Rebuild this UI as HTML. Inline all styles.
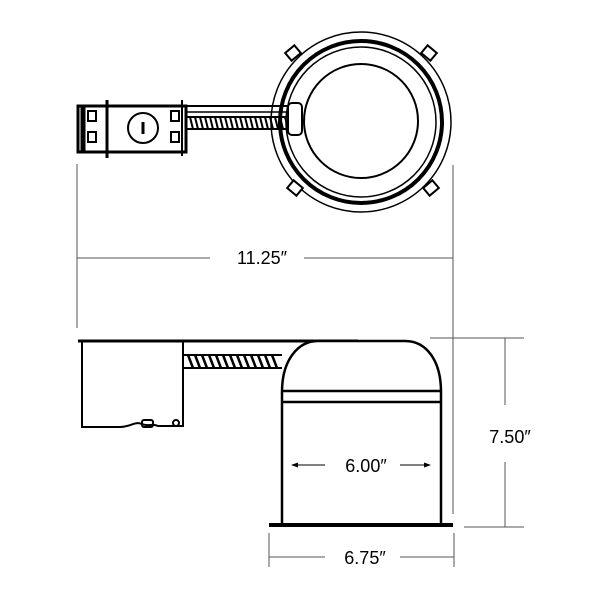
<!DOCTYPE html>
<html><head><style>body{margin:0;background:#fff}svg{display:block}</style></head><body>
<svg width="604" height="604" viewBox="0 0 604 604" xmlns="http://www.w3.org/2000/svg" font-family="Liberation Sans, sans-serif">
<g fill="none" stroke="#000">
<!-- top view -->
<circle cx="361" cy="122" r="90" stroke-width="1.5"/>
<circle cx="361" cy="122" r="81" stroke-width="4"/>
<circle cx="361" cy="122" r="75" stroke-width="1.5"/>
<circle cx="361" cy="121" r="57" stroke-width="2"/>
<g stroke-width="2" fill="#fff">
<rect x="287" y="48" width="12" height="10" transform="rotate(-40 293 53)"/>
<rect x="423" y="48" width="12" height="10" transform="rotate(40 429 53)"/>
<rect x="289" y="183" width="12" height="10" transform="rotate(40 295 188)"/>
<rect x="425" y="183" width="12" height="10" transform="rotate(-40 431 188)"/>
</g>
<line x1="187" y1="106" x2="290" y2="106" stroke-width="2"/>
<line x1="187" y1="112" x2="290" y2="112" stroke-width="1.5"/>
<rect x="186" y="117" width="112" height="12" stroke-width="2"/>
<path d="M190 117 l3 12 M195 117 l3 12 M200 117 l3 12 M205 117 l3 12 M210 117 l3 12 M215 117 l3 12 M220 117 l3 12 M225 117 l3 12 M230 117 l3 12 M235 117 l3 12 M240 117 l3 12 M245 117 l3 12 M250 117 l3 12 M255 117 l3 12 M260 117 l3 12 M265 117 l3 12 M270 117 l3 12 M275 117 l3 12 M280 117 l3 12 M285 117 l3 12 M290 117 l3 12" stroke-width="2"/>
<rect x="288" y="103" width="14" height="32" rx="4" stroke-width="2" fill="#fff"/>
<rect x="78" y="106" width="108" height="46" stroke-width="3" fill="#fff"/>
<rect x="81" y="108" width="4" height="42" fill="#000"/>
<line x1="107" y1="100" x2="107" y2="158" stroke-width="3"/>
<line x1="182" y1="100" x2="182" y2="156" stroke-width="2"/>
<circle cx="143" cy="128" r="15" stroke-width="2"/>
<line x1="143" y1="122" x2="143" y2="134" stroke-width="3"/>
<rect x="88" y="111" width="8" height="10" stroke-width="2"/><rect x="88" y="132" width="8" height="10" stroke-width="2"/>
<rect x="171" y="111" width="8" height="10" stroke-width="2"/><rect x="171" y="132" width="8" height="10" stroke-width="2"/>
<!-- side view -->
<line x1="78" y1="341" x2="358" y2="341" stroke-width="3"/>
<path d="M82 341 V427 H120 C130 427 135 421 142 424 C148 427 152 423 158 426 H183 V341" stroke-width="2"/>
<rect x="142" y="420" width="11" height="7" rx="2" stroke-width="2"/>
<circle cx="176" cy="423" r="3" stroke-width="2"/>
<path d="M184 355 H282 M184 368 H282" stroke-width="2"/>
<path d="M188 355 l5 13 M195 355 l5 13 M202 355 l5 13 M209 355 l5 13 M216 355 l5 13 M223 355 l5 13 M230 355 l5 13 M237 355 l5 13 M244 355 l5 13 M251 355 l5 13 M258 355 l5 13 M265 355 l5 13 M272 355 l5 13" stroke-width="2.5"/>
<path d="M282 525 V392 C282 360 298 341 318 341 H405 C426 341 441 360 441 392 V525" stroke-width="2.5" fill="#fff"/>
<line x1="282" y1="391" x2="441" y2="391" stroke-width="2.5"/>
<line x1="282" y1="402" x2="441" y2="402" stroke-width="2.5"/>
<line x1="269" y1="525" x2="453" y2="525" stroke-width="4"/>
<!-- dims -->
<g stroke="#555" stroke-width="1">
<line x1="77" y1="164" x2="77" y2="328"/>
<line x1="453" y1="165" x2="453" y2="514"/>
<line x1="77" y1="258" x2="210" y2="258"/><line x1="304" y1="258" x2="453" y2="258"/>
<line x1="430" y1="338" x2="524" y2="338"/><line x1="464" y1="527" x2="524" y2="527"/>
<line x1="505" y1="338" x2="505" y2="405"/><line x1="505" y1="462" x2="505" y2="527"/>
<line x1="269" y1="533" x2="269" y2="567"/><line x1="454" y1="533" x2="454" y2="567"/>
<line x1="269" y1="557" x2="325" y2="557"/><line x1="400" y1="557" x2="454" y2="557"/>
<line x1="292" y1="465" x2="325" y2="465" stroke="#000"/><line x1="400" y1="465" x2="430" y2="465" stroke="#000"/>
</g>
<path d="M291 465 l7 -2.5 v5 z M431 465 l-7 -2.5 v5 z" fill="#000" stroke="none"/>
</g>
<g font-size="18" fill="#000" text-anchor="middle">
<text x="262" y="264">11.25″</text>
<text x="366" y="472">6.00″</text>
<text x="510" y="443">7.50″</text>
<text x="365" y="564">6.75″</text>
</g>
</svg>
</body></html>
